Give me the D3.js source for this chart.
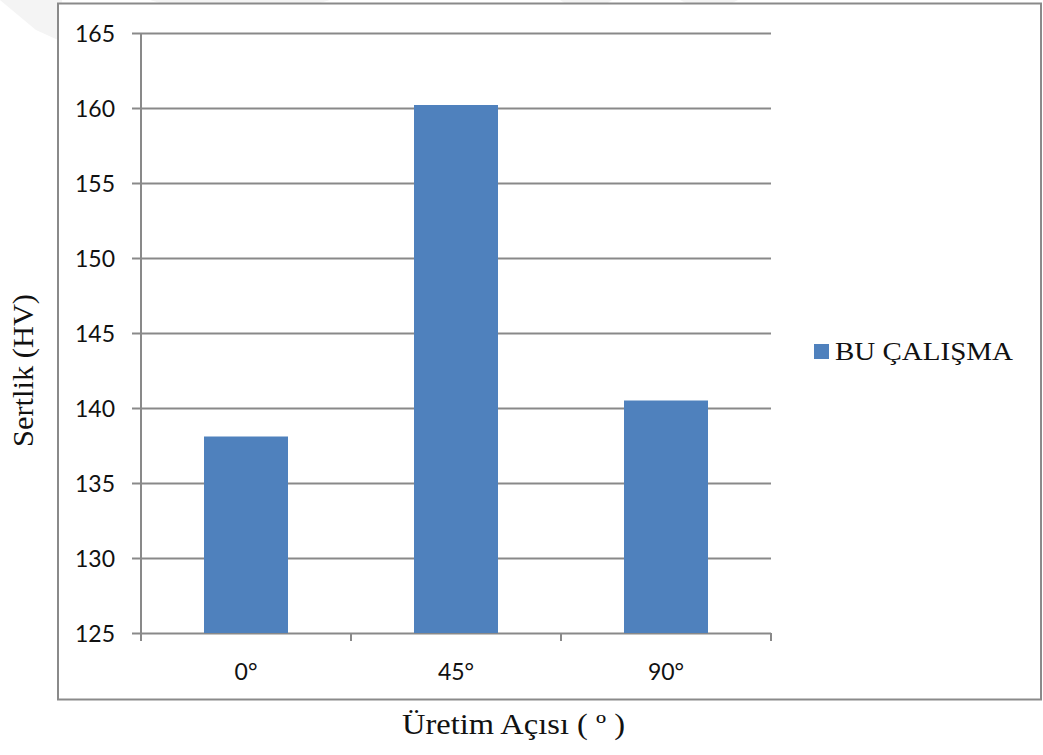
<!DOCTYPE html>
<html>
<head>
<meta charset="utf-8">
<script src="https://cdn.jsdelivr.net/npm/d3@7"></script>
<style>
  html, body { margin: 0; padding: 0; background: #fff; }
  svg { display: block; }
</style>
</head>
<body>
<svg id="chart" width="1043" height="755"></svg>
<script>
// Hardness by build angle
const categories = ["0°", "45°", "90°"];
const hardness = [138.1, 160.2, 140.5];
const yTicks = [125, 130, 135, 140, 145, 150, 155, 160, 165];
const seriesName = "BU ÇALIŞMA";
const xTitle = "Üretim Açısı ( º )";
const yTitle = "Sertlik (HV)";

const svg = d3.select("#chart");
const plot = { left: 141, right: 771, top: 33, bottom: 633 };
const barColor = "#4F81BD";
const gridColor = "#898989";
const tickFont = "Lato, 'Open Sans', sans-serif";
const serifFont = "'Liberation Serif', 'Times New Roman', serif";

// faint background marks along the top edge
const bg = svg.append("g").attr("fill", "#f4f4f4");
bg.append("polygon").attr("points", "0,0 62,0 58,40 36,30");
bg.append("polygon").attr("points", "150,0 330,0 320,3 160,3");
bg.append("polygon").attr("points", "560,0 612,0 606,4 566,4");
bg.append("polygon").attr("points", "680,0 738,0 730,4 688,4");

// chart frame
svg.append("rect")
  .attr("x", 58).attr("y", 3.5)
  .attr("width", 1041 - 58).attr("height", 699.5 - 3.5)
  .attr("fill", "#fff")
  .attr("stroke", "#8a8a8a").attr("stroke-width", 2);

const x = d3.scaleBand()
  .domain(categories)
  .range([plot.left, plot.right])
  .paddingInner(0.6).paddingOuter(0.3);

const xBoundary = d3.scaleLinear()
  .domain([0, categories.length])
  .range([plot.left, plot.right]);

const y = d3.scaleLinear()
  .domain([125, 165])
  .range([plot.bottom, plot.top]);

// horizontal gridlines with left tick marks
const yAxis = d3.axisLeft(y)
  .tickValues(yTicks)
  .tickSize(plot.right - plot.left + 9)
  .tickSizeOuter(0)
  .tickFormat(d3.format("d"));

const yg = svg.append("g")
  .attr("transform", `translate(${plot.right},0)`)
  .call(yAxis);
yg.select(".domain").remove();
yg.selectAll(".tick line").attr("stroke", gridColor).attr("stroke-width", 2);
yg.selectAll(".tick text")
  .attr("x", -(plot.right - plot.left + 9) - 17)
  .attr("dy", "0.35em")
  .attr("fill", "#111")
  .style("font-family", tickFont)
  .style("font-size", "23px");

// bars
svg.append("g").selectAll("rect")
  .data(hardness)
  .join("rect")
  .attr("x", (d, i) => x(categories[i]))
  .attr("width", x.bandwidth())
  .attr("y", d => y(d))
  .attr("height", d => y(125) - y(d))
  .attr("fill", barColor);

// vertical axis line
svg.append("line")
  .attr("x1", plot.left).attr("x2", plot.left)
  .attr("y1", plot.top).attr("y2", plot.bottom)
  .attr("stroke", gridColor).attr("stroke-width", 2);

// x axis: tick marks at category boundaries, labels centred
const xg = svg.append("g");
xg.selectAll("line.tk")
  .data(d3.range(categories.length + 1))
  .join("line")
  .attr("class", "tk")
  .attr("x1", d => xBoundary(d)).attr("x2", d => xBoundary(d))
  .attr("y1", plot.bottom).attr("y2", plot.bottom + 8)
  .attr("stroke", gridColor).attr("stroke-width", 2);
xg.selectAll("text")
  .data(categories)
  .join("text")
  .attr("x", d => x(d) + x.bandwidth() / 2)
  .attr("y", 680)
  .attr("text-anchor", "middle")
  .attr("fill", "#111")
  .style("font-family", tickFont)
  .style("font-size", "23px")
  .text(d => d);

// legend
const lg = svg.append("g");
lg.append("rect")
  .attr("x", 814).attr("y", 344)
  .attr("width", 15).attr("height", 15)
  .attr("fill", barColor);
lg.append("text")
  .attr("x", 835).attr("y", 360)
  .attr("fill", "#111")
  .attr("textLength", 178).attr("lengthAdjust", "spacingAndGlyphs")
  .style("font-family", serifFont)
  .style("font-size", "26px")
  .text(seriesName);

// axis titles
svg.append("text")
  .attr("x", 402).attr("y", 734)
  .attr("fill", "#111")
  .attr("textLength", 223).attr("lengthAdjust", "spacingAndGlyphs")
  .style("font-family", serifFont)
  .style("font-size", "29px")
  .text(xTitle);

svg.append("text")
  .attr("transform", "translate(33,447) rotate(-90)")
  .attr("fill", "#111")
  .attr("textLength", 153).attr("lengthAdjust", "spacingAndGlyphs")
  .style("font-family", serifFont)
  .style("font-size", "29px")
  .text(yTitle);
</script>
</body>
</html>
